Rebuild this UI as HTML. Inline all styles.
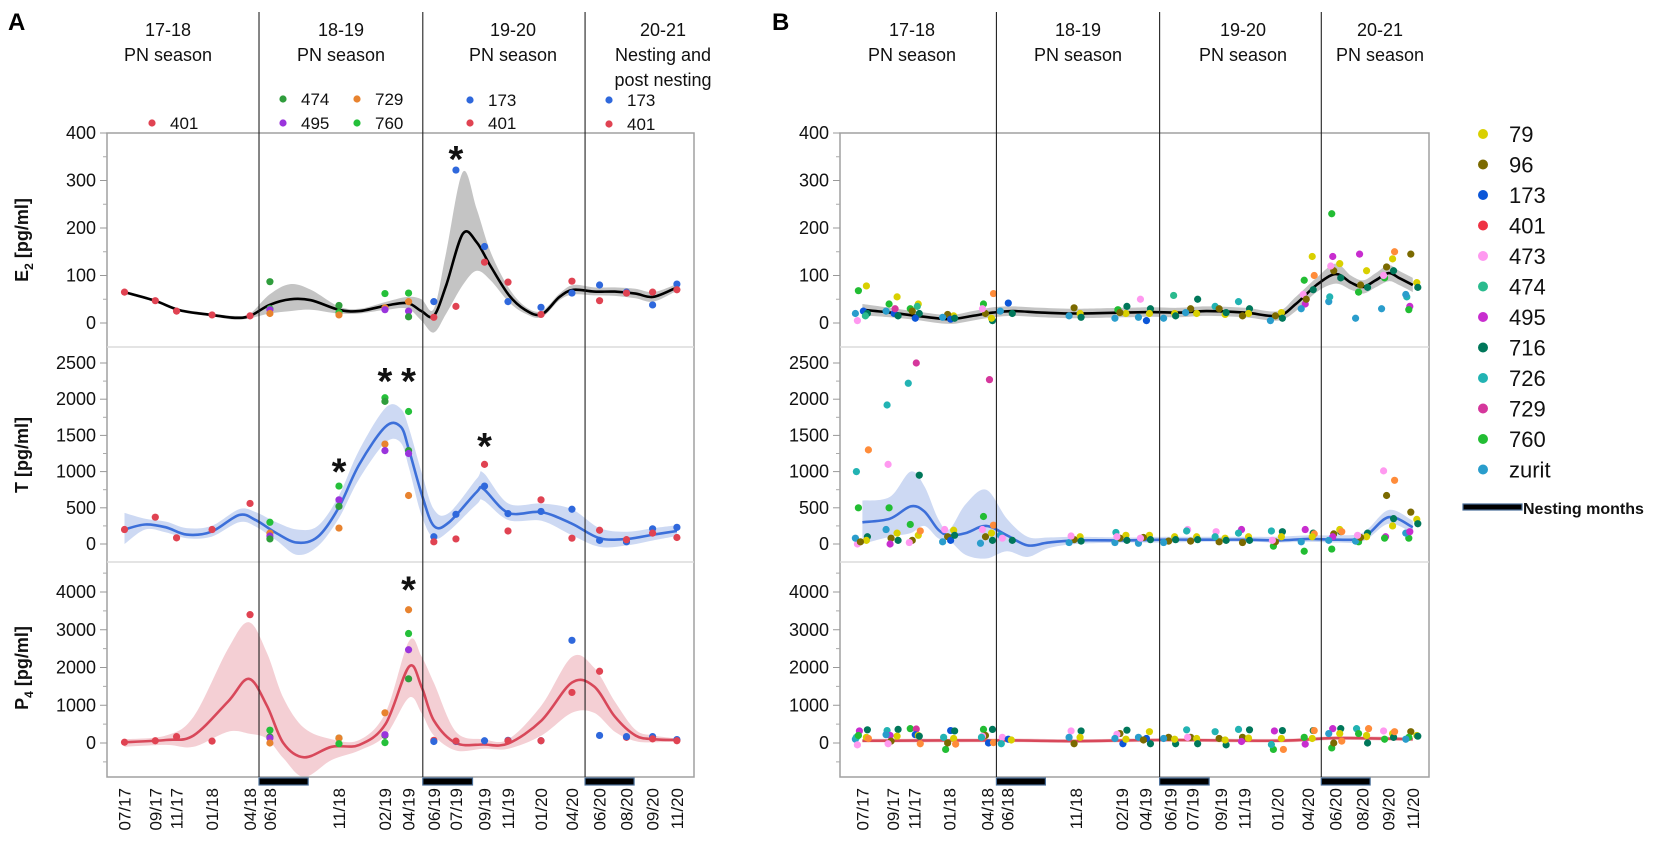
<!DOCTYPE html>
<html><head><meta charset="utf-8">
<style>
html,body{margin:0;padding:0;background:#fff;}
svg{display:block;font-family:"Liberation Sans",sans-serif;}
</style></head>
<body>
<svg id="fig" width="1654" height="845" viewBox="0 0 1654 845" xmlns="http://www.w3.org/2000/svg">
</svg>
<script>
// ---------------- DATA ----------------
const dateLabels=['07/17','09/17','11/17','01/18','04/18','06/18','11/18','02/19','04/19','06/19','07/19','09/19','11/19','01/20','04/20','06/20','08/20','09/20','11/20'];
const dateMonths=[0,2.23,3.77,6.34,9.09,10.53,15.53,18.86,20.57,22.4,24.0,26.07,27.77,30.16,32.4,34.4,36.35,38.24,40.0];
const seasonDividers=[9.74,21.6,33.35];
const nestingStart=[9.74,21.6,33.35];
const nestingEnd=[13.3,25.2,36.9];

// Panel A points: [dateIndex, individual, value]
const aE2=[[0,'401',65],[1,'401',47],[2,'401',25],[3,'401',17],[4,'401',15],
[5,'474',87],[5,'760',30],[5,'495',28],[5,'729',20],
[6,'474',37],[6,'760',22],[6,'729',17],
[7,'760',62],[7,'729',32],[7,'495',28],
[8,'760',63],[8,'729',45],[8,'495',25],[8,'474',13],
[9,'173',45],[9,'401',12],[10,'173',322],[10,'401',35],[11,'173',161],[11,'401',128],
[12,'401',86],[12,'173',45],[13,'173',33],[13,'401',18],[14,'401',88],[14,'173',63],
[15,'173',80],[15,'401',47],[16,'173',65],[16,'401',63],[17,'401',65],[17,'173',38],[18,'173',82],[18,'401',70]];
const aT=[[0,'401',200],[1,'401',370],[2,'401',85],[3,'401',200],[4,'401',560],
[5,'760',300],[5,'729',150],[5,'495',110],[5,'474',70],
[6,'760',800],[6,'495',610],[6,'474',520],[6,'729',220],
[7,'760',2020],[7,'474',1970],[7,'729',1380],[7,'495',1290],
[8,'760',1830],[8,'474',1290],[8,'495',1250],[8,'729',670],
[9,'173',100],[9,'401',30],[10,'173',410],[10,'401',70],[11,'401',1100],[11,'173',800],
[12,'173',420],[12,'401',180],[13,'401',610],[13,'173',450],[14,'173',480],[14,'401',80],
[15,'401',190],[15,'173',50],[16,'173',30],[16,'401',60],[17,'173',210],[17,'401',150],[18,'173',230],[18,'401',90]];
const aP4=[[0,'401',20],[1,'401',60],[2,'401',170],[3,'401',50],[4,'401',3400],
[5,'474',160],[5,'760',340],[5,'495',130],[5,'729',0],
[6,'474',130],[6,'729',130],[6,'760',-20],
[7,'729',800],[7,'474',200],[7,'495',220],[7,'760',10],
[8,'729',3530],[8,'760',2900],[8,'495',2470],[8,'474',1700],
[9,'401',70],[9,'173',40],[10,'173',40],[10,'401',50],[11,'173',60],[12,'173',70],[12,'401',60],
[13,'173',60],[13,'401',60],[14,'173',2720],[14,'401',1340],[15,'401',1900],[15,'173',200],
[16,'401',150],[16,'173',170],[17,'173',170],[17,'401',110],[18,'173',90],[18,'401',60]];

// Panel A fits
const aE2FitM=[0,2.2,4,6.3,8,9.1,10.5,12,13.5,15.5,17,19,20.5,21.5,22.4,23.3,24.5,25.5,26.5,27.8,29,30.2,31.5,32.5,34,35.5,37,38.3,40];
const aE2Fit=[65,47,27,17,11,15,38,50,48,28,25,37,42,25,15,80,188,170,120,60,28,18,55,70,66,66,62,55,75];
const aE2Up=[68,50,30,20,15,20,60,82,70,35,30,45,55,50,30,150,318,240,150,75,35,25,62,80,75,75,72,65,82];
const aE2Lo=[62,44,24,14,7,10,20,25,28,20,20,28,30,5,-20,20,80,110,90,45,20,12,48,60,58,57,52,45,68];
const aTFitM=[0,1.5,3,4.5,6.3,8.3,9.5,11,12.5,14,15.5,17,18.9,20,20.6,21.5,22.4,23.5,25.5,26,27.8,30.2,32.4,34.4,36.4,38.3,40];
const aTFit=[200,270,230,130,170,400,330,150,20,100,500,1100,1620,1620,1300,700,250,300,720,760,430,440,280,80,70,130,180];
const aTUp=[430,350,310,220,250,480,440,300,200,250,660,1300,1880,1870,1600,1000,480,430,900,980,560,560,480,220,170,220,260];
const aTLo=[0,200,160,80,100,300,240,50,-150,-30,350,900,1400,1400,1050,400,80,180,550,600,330,320,120,-40,-20,50,110];
const aP4FitM=[0,3,5,7.5,9,10.3,11.5,13,15,17,18.9,20.6,21.5,22.4,24,26,27.8,30.2,32.4,34,35.5,37,38.3,40];
const aP4Fit=[20,80,200,1100,1700,1000,0,-380,-100,-50,500,2020,1500,600,0,-40,-10,600,1600,1500,700,200,100,80];
const aP4Up=[100,200,700,2500,3200,2400,1200,400,100,80,800,2700,2300,1600,300,100,100,1000,2280,2000,1100,350,200,120];
const aP4Lo=[-100,-50,-100,300,250,120,-400,-900,-450,-200,200,1200,800,200,-200,-150,-150,200,800,800,300,50,20,40];

// Panel B points [dateIndex, individual, value]
const bE2=[[0,'79',78],[0,'760',68],[0,'173',25],[0,'716',20],[0,'473',5],[0,'474',15],[0,'zurit',20],
[1,'79',55],[1,'760',40],[1,'173',20],[1,'729',30],[1,'716',15],[1,'zurit',25],
[2,'79',40],[2,'760',30],[2,'716',20],[2,'173',10],[2,'474',35],[2,'96',25],
[3,'79',15],[3,'96',18],[3,'173',8],[3,'716',10],[3,'zurit',12],
[4,'other',62],[4,'760',40],[4,'96',20],[4,'716',5],[4,'473',30],[4,'79',10],
[5,'173',42],[5,'716',20],[5,'zurit',25],
[6,'96',32],[6,'79',20],[6,'716',12],[6,'zurit',15],
[7,'716',35],[7,'760',28],[7,'79',20],[7,'zurit',10],[7,'96',22],
[8,'473',50],[8,'716',30],[8,'79',20],[8,'173',5],[8,'zurit',12],
[9,'474',58],[9,'79',20],[9,'716',15],[9,'zurit',10],
[10,'716',50],[10,'79',20],[10,'96',30],[10,'zurit',22],
[11,'726',35],[11,'79',18],[11,'716',22],[11,'96',30],
[12,'726',45],[12,'716',30],[12,'79',20],[12,'96',15],
[13,'79',22],[13,'96',15],[13,'716',10],[13,'zurit',5],
[14,'79',140],[14,'other',100],[14,'760',90],[14,'716',70],[14,'473',60],[14,'495',40],[14,'zurit',30],[14,'96',50],
[15,'760',230],[15,'495',140],[15,'716',95],[15,'96',110],[15,'79',125],[15,'zurit',45],[15,'726',55],[15,'473',120],
[16,'495',145],[16,'79',110],[16,'716',75],[16,'760',65],[16,'zurit',10],[16,'96',80],
[17,'other',150],[17,'79',135],[17,'96',118],[17,'716',110],[17,'760',95],[17,'zurit',30],[17,'473',100],
[18,'96',145],[18,'79',85],[18,'716',75],[18,'726',55],[18,'495',35],[18,'760',28],[18,'zurit',60]];
const bT=[[0,'other',1300],[0,'726',1000],[0,'760',500],[0,'716',100],[0,'79',50],[0,'473',0],[0,'zurit',80],[0,'96',30],
[1,'726',1920],[1,'473',1100],[1,'760',500],[1,'79',150],[1,'96',80],[1,'716',50],[1,'zurit',200],[1,'495',0],
[2,'729',2500],[2,'726',2220],[2,'716',950],[2,'760',270],[2,'79',120],[2,'96',50],[2,'other',180],[2,'473',20],
[3,'79',190],[3,'96',100],[3,'173',50],[3,'716',120],[3,'zurit',30],[3,'473',200],
[4,'729',2270],[4,'760',380],[4,'other',260],[4,'79',150],[4,'96',100],[4,'716',50],[4,'zurit',10],[4,'473',200],
[5,'zurit',120],[5,'473',80],[5,'716',50],
[6,'79',100],[6,'96',60],[6,'716',40],[6,'zurit',20],[6,'473',110],
[7,'726',160],[7,'79',120],[7,'96',80],[7,'716',50],[7,'zurit',20],[7,'473',100],
[8,'79',120],[8,'716',60],[8,'96',90],[8,'zurit',10],[8,'473',80],
[9,'79',100],[9,'716',60],[9,'96',40],[9,'zurit',20],
[10,'473',200],[10,'726',180],[10,'79',100],[10,'716',60],[10,'96',40],
[11,'473',170],[11,'79',80],[11,'716',50],[11,'96',30],[11,'726',100],
[12,'495',200],[12,'726',150],[12,'79',100],[12,'716',50],[12,'96',20],
[13,'716',170],[13,'726',180],[13,'760',-30],[13,'79',100],[13,'96',30],[13,'473',50],
[14,'716',150],[14,'760',-100],[14,'other',140],[14,'79',100],[14,'zurit',30],[14,'495',200],
[15,'760',-70],[15,'716',170],[15,'96',140],[15,'79',200],[15,'495',100],[15,'zurit',50],[15,'other',170],
[16,'716',150],[16,'760',30],[16,'79',100],[16,'zurit',40],[16,'96',90],[16,'473',120],
[17,'473',1010],[17,'other',880],[17,'96',670],[17,'716',350],[17,'79',250],[17,'495',100],[17,'760',80],
[18,'96',440],[18,'79',340],[18,'716',280],[18,'760',80],[18,'zurit',150],[18,'495',170]];
const bP4=[[0,'716',350],[0,'495',320],[0,'79',150],[0,'other',120],[0,'zurit',100],[0,'473',-50],[0,'726',150],[0,'760',200],
[1,'716',360],[1,'726',330],[1,'495',200],[1,'79',180],[1,'96',50],[1,'zurit',220],[1,'473',-20],
[2,'760',380],[2,'729',370],[2,'173',220],[2,'79',200],[2,'716',180],[2,'other',-20],
[3,'173',330],[3,'716',320],[3,'726',150],[3,'760',-170],[3,'79',120],[3,'96',0],[3,'other',-30],
[4,'760',360],[4,'716',360],[4,'96',200],[4,'473',180],[4,'173',0],[4,'other',10],[4,'726',150],
[5,'473',150],[5,'173',100],[5,'726',-20],[5,'79',80],
[6,'473',320],[6,'716',320],[6,'zurit',150],[6,'79',150],[6,'96',-20],
[7,'716',340],[7,'96',250],[7,'473',230],[7,'zurit',120],[7,'173',-20],[7,'79',100],
[8,'79',300],[8,'716',-20],[8,'173',120],[8,'zurit',150],[8,'96',80],
[9,'96',150],[9,'716',-20],[9,'79',100],[9,'zurit',120],
[10,'726',350],[10,'96',150],[10,'79',120],[10,'716',-20],[10,'473',150],
[11,'726',300],[11,'716',-50],[11,'96',120],[11,'79',80],
[12,'716',350],[12,'726',360],[12,'96',150],[12,'79',130],[12,'495',40],
[13,'716',330],[13,'495',320],[13,'760',-170],[13,'other',-170],[13,'726',-40],[13,'79',120],
[14,'716',330],[14,'other',330],[14,'495',-30],[14,'79',120],[14,'760',150],
[15,'716',380],[15,'495',380],[15,'760',-130],[15,'96',0],[15,'79',250],[15,'other',50],[15,'zurit',250],
[16,'726',380],[16,'other',380],[16,'716',0],[16,'79',200],[16,'760',250],
[17,'473',320],[17,'79',250],[17,'716',150],[17,'760',100],[17,'other',300],
[18,'96',300],[18,'79',200],[18,'716',180],[18,'760',150],[18,'zurit',100]];

// Panel B fits
const bE2FitM=[0,2,4,6.3,8,9.5,11,13,15.5,19,21,23,25,27.8,30.2,31.5,33,34.4,35.5,36.4,37.3,38.24,39,40];
const bE2Fit=[28,22,15,8,15,22,25,22,20,22,23,22,25,22,15,40,80,103,85,76,90,105,95,80];
const bE2Up=[40,32,24,17,25,33,35,32,30,32,33,32,35,32,25,55,95,125,100,90,105,122,110,95];
const bE2Lo=[16,12,6,-2,5,12,15,12,10,12,13,12,15,12,5,25,65,83,70,62,75,88,80,65];
const bTFitM=[0,2,3.5,4.5,5.5,6.3,7.5,9,10.5,12,13.5,15.5,19,22,25,28,30.2,32.4,34.4,36.4,38.24,40];
const bTFit=[300,350,520,450,200,120,150,250,120,-20,20,50,50,60,60,60,50,70,60,90,370,230];
const bTUp=[600,650,1000,800,350,200,550,750,350,100,90,100,90,100,100,100,100,120,120,160,470,320];
const bTLo=[0,100,150,250,80,50,-150,-200,-100,-180,-60,0,20,20,30,30,20,30,20,40,280,150];
const bP4FitM=[0,10,15.5,22,30.2,34.4,40];
const bP4Fit=[60,70,50,80,60,130,100];
const bP4Up=[110,120,100,130,110,180,150];
const bP4Lo=[10,20,0,30,10,80,50];

const aColors={'401':'#e04352','474':'#2f9d3c','495':'#9a34dc','729':'#e8832f','760':'#25c03a','173':'#2f68dc'};
const bLegend=['79','96','173','401','473','474','495','716','726','729','760','zurit'];
const bColors={'79':'#d9d000','96':'#7b6a00','173':'#0b56d8','401':'#ef3344','473':'#ff99f0','474':'#2bbb8e','495':'#c82dcf','716':'#00775a','726':'#22b3b3','729':'#d5379c','760':'#22bd33','zurit':'#2a9dcc','other':'#ff8c3a'};
const bJitter={'79':4,'96':-2,'173':1,'401':0,'473':-5,'474':3,'495':-3,'716':5,'726':-6,'729':2,'760':-4,'zurit':-7,'other':6};

// ---------------- DRAW ----------------
const NS='http://www.w3.org/2000/svg';
const svg=document.getElementById('fig');
function el(tag,attrs,parent){const e=document.createElementNS(NS,tag);for(const k in attrs)e.setAttribute(k,attrs[k]);(parent||svg).appendChild(e);return e;}
function txt(s,attrs,parent){const e=el('text',attrs,parent);e.textContent=s;return e;}

const TOP=133,SEP1=347,SEP2=562,BOT=777;
const yE2=v=>323-0.475*v, yT=v=>544-0.0724*v, yP4=v=>743-0.03775*v;
const panels=[{name:'a',left:107,right:694,x:m=>124.5+m*13.81},{name:'b',left:840,right:1429,x:m=>862.4+m*13.76}];

function cr(P){let d='';for(let i=0;i<P.length-1;i++){const p0=P[i-1]||P[i],p1=P[i],p2=P[i+1],p3=P[i+2]||p2;
const c1x=p1[0]+(p2[0]-p0[0])/6,c1y=p1[1]+(p2[1]-p0[1])/6,c2x=p2[0]-(p3[0]-p1[0])/6,c2y=p2[1]-(p3[1]-p1[1])/6;
d+=` C${c1x.toFixed(1)},${c1y.toFixed(1)} ${c2x.toFixed(1)},${c2y.toFixed(1)} ${p2[0].toFixed(1)},${p2[1].toFixed(1)}`;}return d;}
function fitDraw(g,xs,mid,up,lo,sx,sy,bandCol,lineCol,nm){
  const U=xs.map((m,i)=>[sx(m),sy(up[i])]),L=xs.map((m,i)=>[sx(m),sy(lo[i])]).reverse(),M=xs.map((m,i)=>[sx(m),sy(mid[i])]);
  const b=el('path',{d:`M${U[0][0]},${U[0][1]}`+cr(U)+` L${L[0][0]},${L[0][1]}`+cr(L)+'Z',fill:bandCol,stroke:'none'},g);
  
  
  const l=el('path',{d:`M${M[0][0]},${M[0][1]}`+cr(M),fill:'none',stroke:lineCol,'stroke-width':2.6},g);
  
  
}
function dots(g,arr,sx,sy,colors,jit,nm){
  arr.forEach(([di,ind,v])=>{const c=el('circle',{cx:sx(dateMonths[di])+(jit?jit[ind]:0),cy:sy(v),r:3.6,fill:colors[ind]},g);
  
  });
}
function yAxis(g,left,sy,majors,minors,top,bot){
  majors.forEach(v=>{const y=sy(v);el('line',{x1:left-7,x2:left,y1:y,y2:y,stroke:'#999'},g);
    const t=txt(String(v),{x:left-11,y:y+6,'text-anchor':'end','font-size':18,fill:'#111'},g);
    
    });
  minors.forEach(v=>{const y=sy(v);if(y>top+2&&y<bot-2)el('line',{x1:left-4,x2:left,y1:y,y2:y,stroke:'#aaa'},g);});
}

panels.forEach((p,pi)=>{
  const g=el('g',{});
  
  
  // bands & lines
  if(pi===0){
    fitDraw(g,aE2FitM,aE2Fit,aE2Up,aE2Lo,p.x,yE2,'#c4c4c4','#000','e2');
    fitDraw(g,aTFitM,aTFit,aTUp,aTLo,p.x,yT,'#cdd9f3','#3c6fd9','t');
    fitDraw(g,aP4FitM,aP4Fit,aP4Up,aP4Lo,p.x,yP4,'#f4cfd4','#d8485a','p4');
  } else {
    fitDraw(g,bE2FitM,bE2Fit,bE2Up,bE2Lo,p.x,yE2,'#c4c4c4','#000','e2');
    fitDraw(g,bTFitM,bTFit,bTUp,bTLo,p.x,yT,'#cdd9f3','#3c6fd9','t');
    fitDraw(g,bP4FitM,bP4Fit,bP4Up,bP4Lo,p.x,yP4,'#f4cfd4','#d8485a','p4');
  }
  // frame
  const f=el('rect',{x:p.left,y:TOP,width:p.right-p.left,height:BOT-TOP,fill:'none',stroke:'#a0a0a0','stroke-width':1.5},g);
  
  
  [SEP1,SEP2].forEach(y=>el('line',{x1:p.left,x2:p.right,y1:y,y2:y,stroke:'#dcdcdc','stroke-width':1.5},g));
  // dots
  if(pi===0){dots(g,aE2,p.x,yE2,aColors,null,'e2');dots(g,aT,p.x,yT,aColors,null,'t');dots(g,aP4,p.x,yP4,aColors,null,'p4');}
  else{dots(g,bE2,p.x,yE2,bColors,bJitter,'e2');dots(g,bT,p.x,yT,bColors,bJitter,'t');dots(g,bP4,p.x,yP4,bColors,bJitter,'p4');}
  // axes
  yAxis(g,p.left,yE2,[0,100,200,300,400],[50,150,250,350],TOP,SEP1);
  yAxis(g,p.left,yT,[0,500,1000,1500,2000,2500],[250,750,1250,1750,2250,-250],SEP1,SEP2);
  yAxis(g,p.left,yP4,[0,1000,2000,3000,4000],[500,1500,2500,3500,4500,-500,-1000],SEP2,BOT);
  // dividers
  seasonDividers.forEach(m=>{const l=el('line',{x1:p.x(m),x2:p.x(m),y1:12,y2:BOT,stroke:'#222','stroke-width':1.1},g);
    
    });
  // nesting bars
  nestingStart.forEach((m,i)=>{const r=el('rect',{x:p.x(m),y:BOT+1,width:p.x(nestingEnd[i])-p.x(m),height:7,fill:'#000',stroke:'#4a6f99','stroke-width':1.2},g);
    
    });
  // x labels
  dateLabels.forEach((s,i)=>{const x=p.x(dateMonths[i]);const t=txt(s,{x:x+6,y:788,'text-anchor':'end','font-size':17,fill:'#111',transform:`rotate(-90 ${x+6} 788)`},g);
    
    });
});

// axis titles (panel A)
function yTitle(main,sub,cy){const t=el('text',{x:0,y:0,'font-size':18,'font-weight':'bold','text-anchor':'middle',transform:`translate(28 ${cy}) rotate(-90)`,fill:'#111'});
  const a=el('tspan',{},t);a.textContent=main;if(sub){const b=el('tspan',{'font-size':12,dy:5},t);b.textContent=sub;const c=el('tspan',{dy:-5},t);c.textContent=' [pg/ml]';}else{const c=el('tspan',{},t);c.textContent=' [pg/ml]';}
  return t;}
let t1=yTitle('E','2',240);
let t2=yTitle('T','',455);
let t3=yTitle('P','4',668);

// panel letters
let pa=txt('A',{x:8,y:30,'font-size':24,'font-weight':'bold'});
let pb=txt('B',{x:772,y:30,'font-size':24,'font-weight':'bold'});

// season headers
function header(lines,cx,nm){lines.forEach((s,i)=>{const t=txt(s,{x:cx,y:36+i*25,'text-anchor':'middle','font-size':18,fill:'#111'});
  
  });}
header(['17-18','PN season'],168,'season-header');
header(['18-19','PN season'],341,'season-header');
header(['19-20','PN season'],513,'season-header');
header(['20-21','Nesting and','post nesting'],663,'season-header');
header(['17-18','PN season'],912,'season-header');
header(['18-19','PN season'],1078,'season-header');
header(['19-20','PN season'],1243,'season-header');
header(['20-21','PN season'],1380,'season-header');

// Panel A season legends
const aLeg=[[152,123,'401'],[283,99,'474'],[283,123,'495'],[357,99,'729'],[357,123,'760'],[470,100,'173'],[470,123,'401'],[609,100,'173'],[609,124,'401']];
aLeg.forEach(([x,y,id])=>{const c=el('circle',{cx:x,cy:y,r:3.6,fill:aColors[id]});
  
  
  const t=txt(id,{x:x+18,y:y+6,'font-size':17,fill:'#111'});
  
  });

// Panel B legend
bLegend.forEach((id,i)=>{const y=134+i*30.5;const c=el('circle',{cx:1483,cy:y,r:5,fill:bColors[id]});
  
  
  const t=txt(id,{x:1509,y:y+8,'font-size':22,fill:'#111'});
  
  });
const nb=el('rect',{x:1463,y:504,width:59,height:6,fill:'#000',stroke:'#4a6f99','stroke-width':1.2});


const nt=txt('Nesting months',{x:1523,y:514,'font-size':16,'font-weight':'bold',fill:'#111'});



// significance asterisks (panel A)
const starDate=[10,6,7,8,11,8];
const starVal=[360,1100,2350,2350,1450,4250];
const starAxis=['e2','t','t','t','t','p4'];
const sc={e2:yE2,t:yT,p4:yP4};
starDate.forEach((di,i)=>{const x=panels[0].x(dateMonths[di]);const y=sc[starAxis[i]](starVal[i]);
  const s=txt('*',{x:x,y:y+20,'text-anchor':'middle','font-size':38,'font-weight':'bold',fill:'#111'});
  
  });
</script>
</body></html>
